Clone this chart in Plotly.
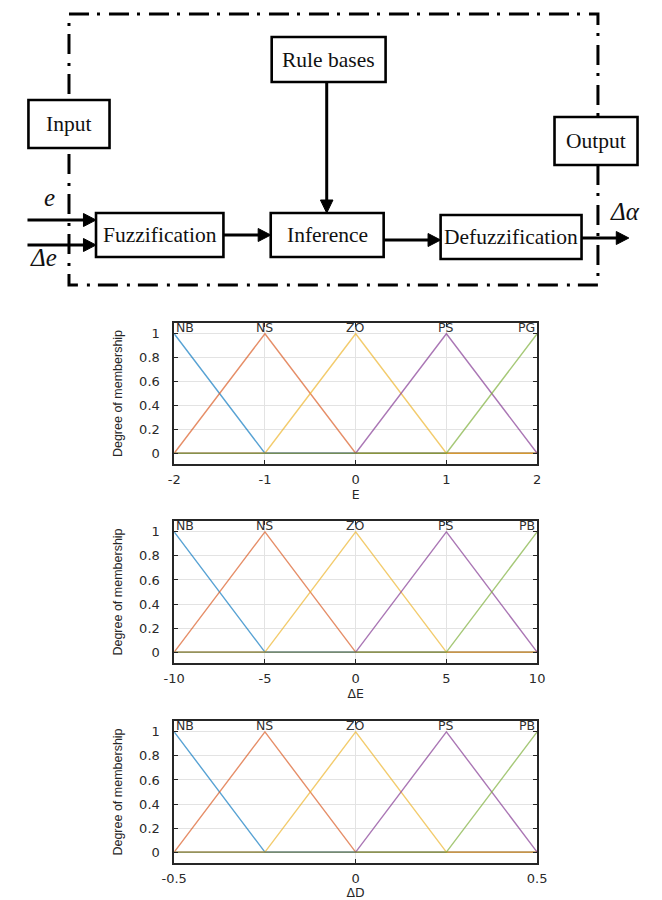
import plotly.graph_objects as go

W, H = 662, 900

# ---------------- data ----------------
mf_names_E = ["NB", "NS", "ZO", "PS", "PG"]
mf_names_DE = ["NB", "NS", "ZO", "PS", "PB"]
mf_names_DD = ["NB", "NS", "ZO", "PS", "PB"]

E_peaks = [-2, -1, 0, 1, 2]
DE_peaks = [-10, -5, 0, 5, 10]
DD_peaks = [-0.5, -0.25, 0, 0.25, 0.5]

E_ticks = [-2, -1, 0, 1, 2]
E_ticklabels = ["-2", "-1", "0", "1", "2"]
DE_ticks = [-10, -5, 0, 5, 10]
DE_ticklabels = ["-10", "-5", "0", "5", "10"]
DD_ticks = [-0.5, 0, 0.5]
DD_ticklabels = ["-0.5", "0", "0.5"]

y_ticks = [0, 0.2, 0.4, 0.6, 0.8, 1]
y_ticklabels = ["0", "0.2", "0.4", "0.6", "0.8", "1"]

axis_titles = ["E", "\u0394E", "\u0394D"]

mf_colors = ["#0072BD", "#D95319", "#EDB120", "#7E2F8E", "#77AC30"]

SERIF = "Liberation Serif, Times New Roman, DejaVu Serif, serif"

# ---------------- helpers ----------------
def PX(v):
    return v / W


def PY(v):
    return 1 - v / H


def mf_polyline(peaks, i):
    """vertices of the i-th triangular MF drawn over the whole universe"""
    lo, hi = peaks[0], peaks[-1]
    left = peaks[i - 1] if i > 0 else peaks[i]
    right = peaks[i + 1] if i < len(peaks) - 1 else peaks[i]
    xs, ys = [], []
    for x, y in [(lo, 0), (left, 0), (peaks[i], 1), (right, 0), (hi, 0)]:
        if xs and xs[-1] == x:
            if y == 1:
                ys[-1] = 1
            continue
        xs.append(x)
        ys.append(y)
    return xs, ys


fig = go.Figure()

subplots = [
    (E_peaks, mf_names_E, E_ticks, E_ticklabels, (464, 323)),
    (DE_peaks, mf_names_DE, DE_ticks, DE_ticklabels, (663, 521)),
    (DD_peaks, mf_names_DD, DD_ticks, DD_ticklabels, (863, 721)),
]

annotations = []
tick_font = dict(family="DejaVu Sans", size=13, color="#2a2a2a")

for k, (peaks, names, ticks, ticklabels, (bot, top)) in enumerate(subplots):
    sfx = "" if k == 0 else str(k + 1)
    for i, name in enumerate(names):
        xs, ys = mf_polyline(peaks, i)
        fig.add_trace(go.Scatter(
            x=xs, y=ys, mode="lines", name=name, showlegend=False,
            line=dict(color=mf_colors[i], width=1.4), opacity=0.65,
            xaxis="x" + sfx, yaxis="y" + sfx, hoverinfo="skip",
        ))
        anchor = "left" if i == 0 else ("right" if i == len(names) - 1 else "center")
        annotations.append(dict(
            x=peaks[i], y=1, xref="x" + sfx, yref="y" + sfx, text=name,
            showarrow=False, xanchor=anchor, yanchor="bottom", yshift=-3,
            font=dict(family="DejaVu Sans", size=12.5, color="#303030"),
        ))
    ax_common = dict(
        showline=True, linecolor="#262626", linewidth=1.6, mirror="ticks",
        ticks="inside", ticklen=4, tickcolor="#262626", tickwidth=1,
        showgrid=True, gridcolor="#e3e3e3", gridwidth=1, zeroline=False,
        tickfont=tick_font,
    )
    fig.layout["xaxis" + sfx] = dict(
        ax_common, domain=[PX(167), PX(543)], anchor="y" + sfx,
        range=[peaks[0], peaks[-1]], tickvals=ticks, ticktext=ticklabels,
        ticklabelstandoff=3,
        title=dict(text=axis_titles[k], standoff=1 if k == 2 else 4,
                   font=dict(family="DejaVu Sans", size=12.5, color="#262626")),
    )
    fig.layout["yaxis" + sfx] = dict(
        ax_common, domain=[PY(bot), PY(top)], anchor="x" + sfx,
        range=[-0.09, 1.09], tickvals=y_ticks, ticktext=y_ticklabels,
        ticklabelstandoff=10,
        title=dict(text="Degree of membership", standoff=14,
                   font=dict(family="Liberation Sans", size=12.5, color="#262626")),
    )

# ---------------- block diagram ----------------
shapes = []
LW = 3

# dash-dot boundary
shapes.append(dict(type="rect", xref="paper", yref="paper",
                   x0=PX(58), x1=PX(606), y0=PY(14), y1=PY(285),
                   line=dict(color="black", width=3, dash="20px,8px,3px,9px")))

boxes = [
    ("Input", 16, 100, 100, 148),
    ("Output", 561, 647, 117, 165),
    ("Rule bases", 268, 386, 37, 82),
    ("Fuzzification", 86, 218, 213, 257),
    ("Inference", 267, 384, 213, 257),
    ("Defuzzification", 443, 589, 215, 259),
]
for label, x0, x1, y0, y1 in boxes:
    shapes.append(dict(type="rect", xref="paper", yref="paper",
                       x0=PX(x0), x1=PX(x1), y0=PY(y0), y1=PY(y1),
                       line=dict(color="black", width=2.6), fillcolor="white"))
    annotations.append(dict(x=PX((x0 + x1) / 2), y=PY((y0 + y1) / 2),
                            xref="paper", yref="paper", text=label, showarrow=False,
                            xanchor="center", yanchor="middle",
                            font=dict(family=SERIF, size=21.5, color="#111")))

arrows = [
    (15, 220, 86, 220),
    (15, 245, 86, 245),
    (218, 235, 267, 235),
    (325, 82, 325, 213),
    (384, 240, 443, 240),
    (589, 238, 638, 238),
]
AL, AW = 13, 6.5
for x0, y0, x1, y1 in arrows:
    if y0 == y1:
        shapes.append(dict(type="line", xref="paper", yref="paper",
                           x0=PX(x0), x1=PX(x1 - AL + 1), y0=PY(y0), y1=PY(y1),
                           line=dict(color="black", width=LW)))
        path = "M {} {} L {} {} L {} {} Z".format(
            PX(x1), PY(y1), PX(x1 - AL), PY(y1 - AW), PX(x1 - AL), PY(y1 + AW))
    else:
        shapes.append(dict(type="line", xref="paper", yref="paper",
                           x0=PX(x0), x1=PX(x1), y0=PY(y0), y1=PY(y1 - AL + 1),
                           line=dict(color="black", width=LW)))
        path = "M {} {} L {} {} L {} {} Z".format(
            PX(x1), PY(y1), PX(x1 - AW), PY(y1 - AL), PX(x1 + AW), PY(y1 - AL))
    shapes.append(dict(type="path", xref="paper", yref="paper", path=path,
                       fillcolor="black", line=dict(color="black", width=1)))

signals = [("e", 38, 197), ("\u0394e", 32, 257), ("\u0394\u03b1", 634, 212)]
for txt, x, y in signals:
    annotations.append(dict(x=PX(x), y=PY(y), xref="paper", yref="paper",
                            text="<i>" + txt + "</i>", showarrow=False,
                            xanchor="center", yanchor="middle",
                            font=dict(family=SERIF, size=25, color="#111")))

fig.update_layout(
    width=W, height=H, margin=dict(l=0, r=0, t=0, b=0),
    paper_bgcolor="white", plot_bgcolor="white",
    shapes=shapes, annotations=annotations, showlegend=False,
)

fig.write_html("out.html", config={"displayModeBar": False},
               post_script="document.body.style.margin='0';")
